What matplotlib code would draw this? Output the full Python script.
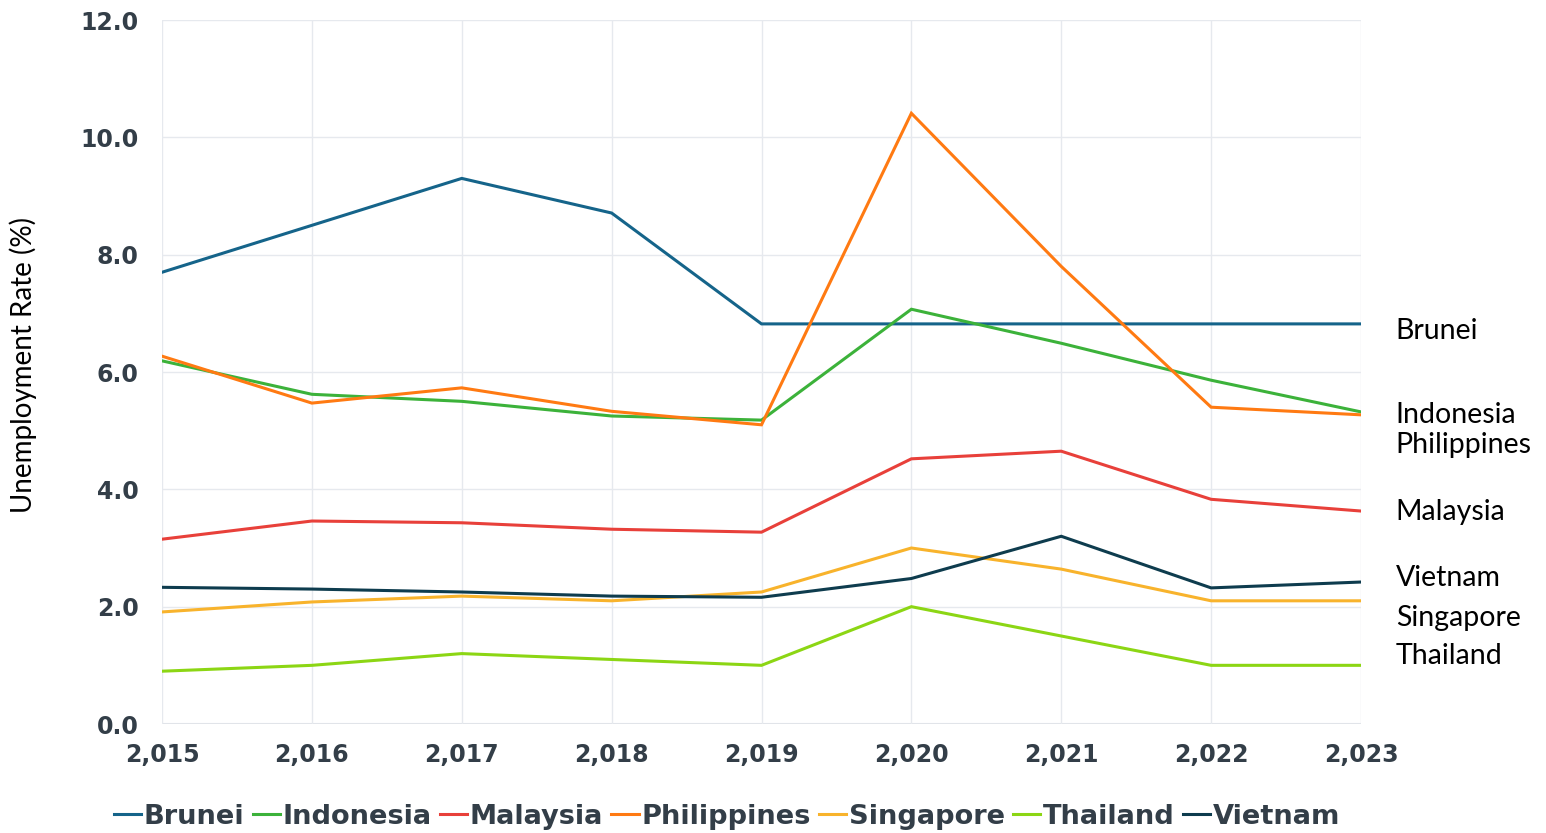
import matplotlib.pyplot as plt

# unemployment rate (%)
years = [2015, 2016, 2017, 2018, 2019, 2020, 2021, 2022, 2023]
brunei      = [7.70, 8.50, 9.30, 8.71, 6.82, 6.82, 6.82, 6.82, 6.82]
indonesia   = [6.19, 5.62, 5.50, 5.25, 5.18, 7.07, 6.49, 5.86, 5.32]
malaysia    = [3.15, 3.46, 3.43, 3.32, 3.27, 4.52, 4.65, 3.83, 3.63]
philippines = [6.27, 5.47, 5.73, 5.33, 5.10, 10.41, 7.80, 5.40, 5.27]
singapore   = [1.91, 2.08, 2.18, 2.10, 2.25, 3.00, 2.64, 2.10, 2.10]
thailand    = [0.90, 1.00, 1.20, 1.10, 1.00, 2.00, 1.50, 1.00, 1.00]
vietnam     = [2.33, 2.30, 2.25, 2.18, 2.16, 2.48, 3.20, 2.32, 2.42]

countries = ["Brunei", "Indonesia", "Malaysia", "Philippines", "Singapore", "Thailand", "Vietnam"]
series = [brunei, indonesia, malaysia, philippines, singapore, thailand, vietnam]
colors = ["#15648a", "#3cb23a", "#e8403a", "#ff7a12", "#f8b32c", "#8cd614", "#0e3c4e"]
# vertical nudge of the end labels, in pixels (positive = down)
label_shift = [7, 3, 1, 30, 17, -9, -4]

tick_color = "#333e48"

fig = plt.figure(figsize=(15.46, 8.33), dpi=100)
ax = fig.add_axes([162/1546, 1-724/833, (1361-162)/1546, (724-20)/833])

for name, vals, col in zip(countries, series, colors):
    ax.plot(years, vals, color=col, lw=2.2, label=name, solid_joinstyle="miter")

for name, vals, col, dy in zip(countries, series, colors, label_shift):
    ax.annotate(name, xy=(years[-1], vals[-1]), xytext=(25, -dy*0.72),
                textcoords="offset points", va="center", ha="left",
                fontsize=20.5, family="Lato", color="black", annotation_clip=False)

ax.set_xlim(years[0], years[-1])
ax.set_ylim(0, 12)
ax.set_xticks(years)
ax.set_xticklabels(["{:,}".format(y) for y in years])
ax.set_yticks([0, 2, 4, 6, 8, 10, 12])
ax.set_yticklabels(["{:.1f}".format(v) for v in [0, 2, 4, 6, 8, 10, 12]])
ax.tick_params(axis="both", length=0, labelsize=17, labelcolor=tick_color)
ax.tick_params(axis="x", pad=14)
ax.tick_params(axis="y", pad=17)
for lab in ax.get_xticklabels() + ax.get_yticklabels():
    lab.set_fontweight("bold")
ax.grid(True, color="#e6e9ee", lw=1.0)
ax.set_axisbelow(True)
for s in ax.spines.values():
    s.set_visible(False)
ax.axhline(0, color="#e1e4e8", lw=1.5, zorder=0)

ax.set_ylabel("Unemployment Rate (%)", fontsize=20, family="Lato", color="black")
ax.yaxis.set_label_coords((37-162)/1199, 0.51)

leg = fig.legend(loc="center", bbox_to_anchor=(727/1546, 1-817/833), ncol=7, frameon=False,
                 handlelength=1.0, handletextpad=0.1, columnspacing=0.3, borderaxespad=0,
                 prop={"weight": "bold", "size": 19.6})
for t in leg.get_texts():
    t.set_color(tick_color)

fig.savefig("out.png", dpi=100)
